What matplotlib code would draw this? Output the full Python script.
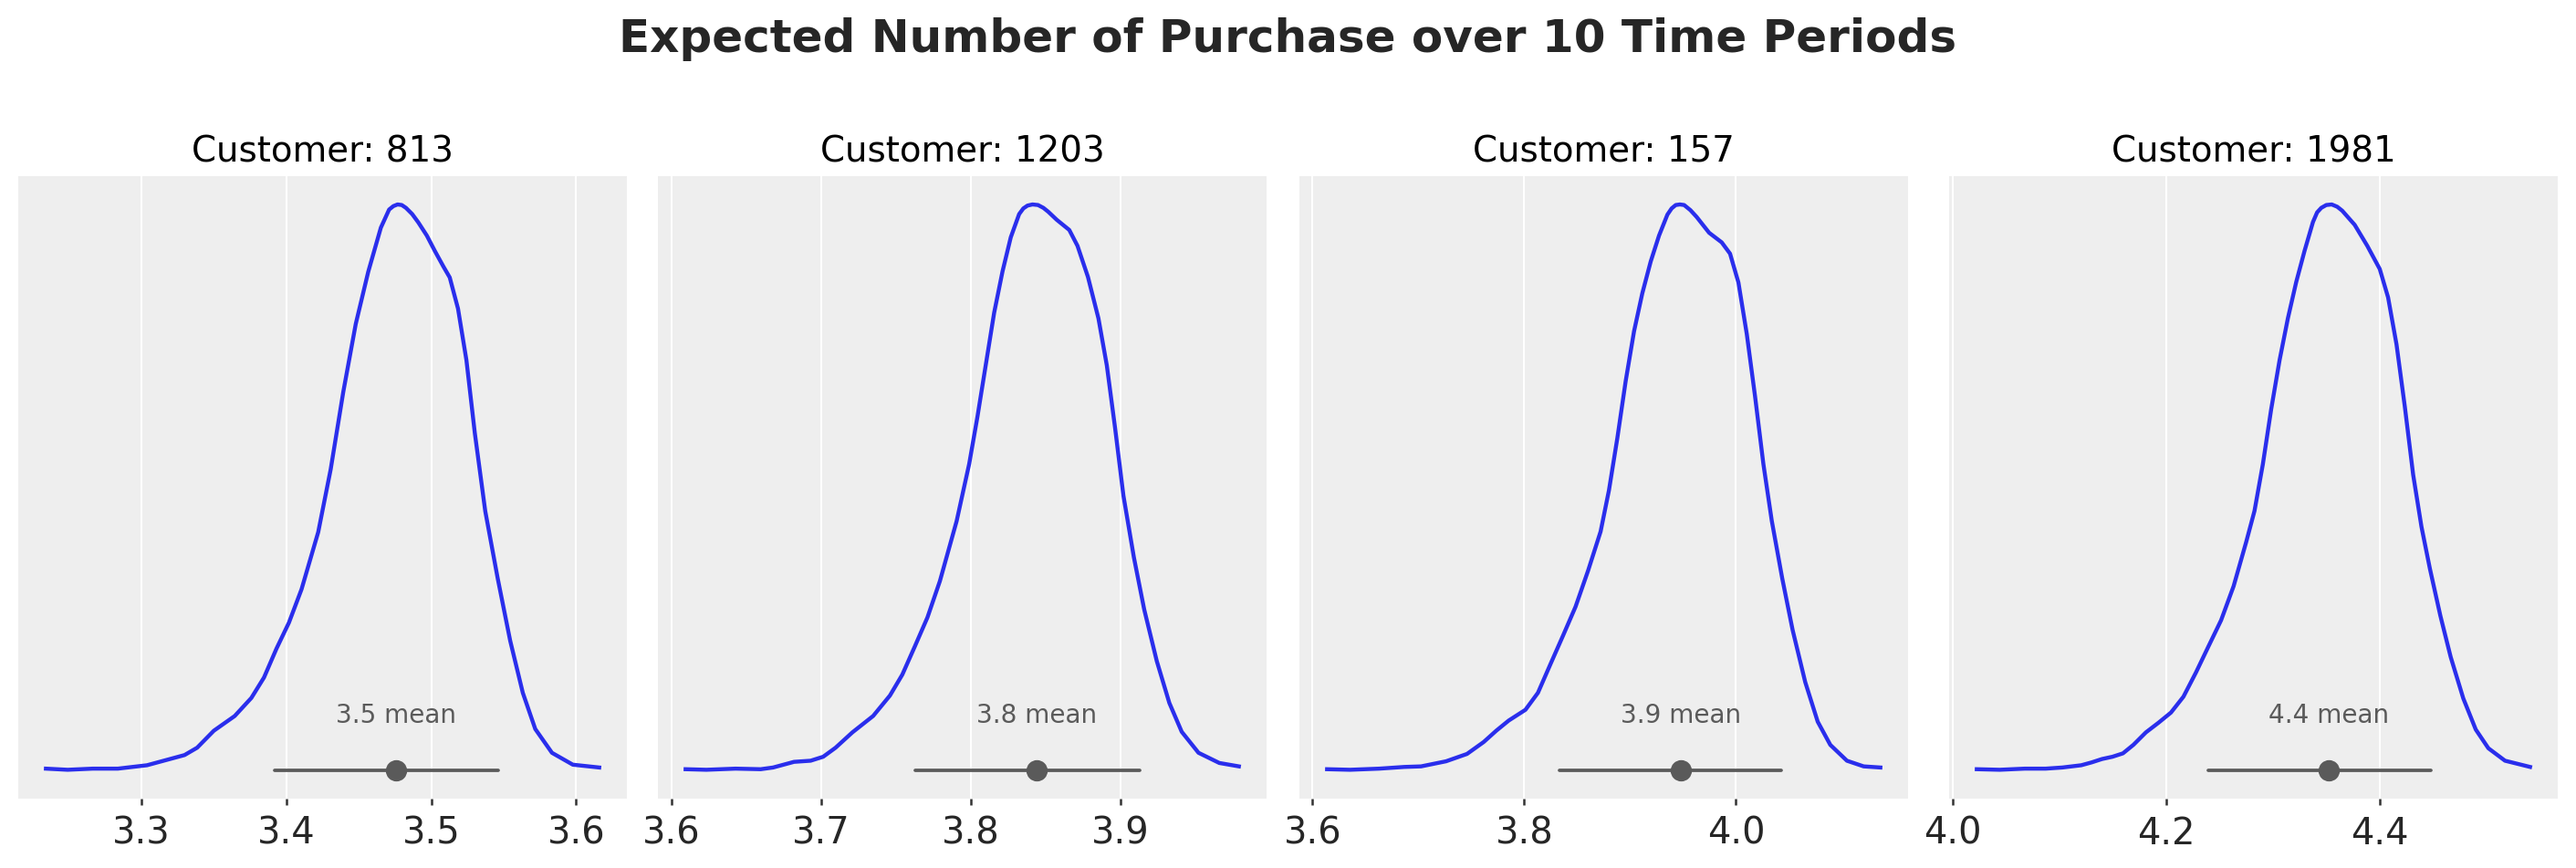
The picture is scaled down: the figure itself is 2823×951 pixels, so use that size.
import matplotlib
matplotlib.use("Agg")
import matplotlib.pyplot as plt
import numpy as np

plt.rcParams['font.family'] = ['DejaVu Sans']

# Customers shown
customers = [813, 1203, 157, 1981]

# KDE curves (x value, relative density)
x_813 = [3.2343, 3.2493, 3.2666, 3.2839, 3.3040, 3.3184, 3.3299, 3.3386, 3.3501, 3.3645,
         3.3760, 3.3847, 3.3933, 3.4019, 3.4106, 3.4221, 3.4307, 3.4394, 3.4480, 3.4566,
         3.4653, 3.4710, 3.4739, 3.4768, 3.4797, 3.4826, 3.4869, 3.4912, 3.4970, 3.5027,
         3.5085, 3.5128, 3.5185, 3.5243, 3.5301, 3.5373, 3.5459, 3.5545, 3.5632, 3.5718,
         3.5833, 3.5977, 3.6159]
y_813 = [0.003, 0.001, 0.003, 0.003, 0.009, 0.019, 0.027, 0.040, 0.070, 0.096,
         0.128, 0.164, 0.215, 0.261, 0.320, 0.421, 0.532, 0.669, 0.789, 0.881,
         0.959, 0.991, 0.997, 1.000, 0.999, 0.994, 0.983, 0.968, 0.945, 0.917,
         0.890, 0.871, 0.816, 0.725, 0.596, 0.458, 0.339, 0.229, 0.137, 0.073,
         0.031, 0.010, 0.005]

x_1203 = [3.6095, 3.6234, 3.6429, 3.6597, 3.6680, 3.6820, 3.6931, 3.7015, 3.7098, 3.7210,
          3.7349, 3.7461, 3.7544, 3.7628, 3.7712, 3.7795, 3.7907, 3.7991, 3.8046, 3.8102,
          3.8158, 3.8214, 3.8269, 3.8325, 3.8353, 3.8381, 3.8414, 3.8451, 3.8487, 3.8520,
          3.8576, 3.8660, 3.8715, 3.8785, 3.8855, 3.8911, 3.8966, 3.9022, 3.9092, 3.9161,
          3.9245, 3.9329, 3.9412, 3.9524, 3.9663, 3.9794]
y_1203 = [0.002, 0.001, 0.003, 0.002, 0.005, 0.015, 0.017, 0.024, 0.040, 0.067,
          0.096, 0.132, 0.169, 0.219, 0.270, 0.334, 0.440, 0.541, 0.624, 0.716,
          0.808, 0.881, 0.941, 0.982, 0.992, 0.997, 0.999, 0.998, 0.993, 0.986,
          0.972, 0.954, 0.926, 0.871, 0.798, 0.715, 0.605, 0.485, 0.376, 0.284,
          0.193, 0.119, 0.068, 0.031, 0.013, 0.007]

x_157 = [3.6138, 3.6355, 3.6631, 3.6868, 3.7026, 3.7262, 3.7460, 3.7617, 3.7736, 3.7854,
         3.8012, 3.8130, 3.8249, 3.8367, 3.8485, 3.8604, 3.8722, 3.8801, 3.8880, 3.8959,
         3.9038, 3.9116, 3.9195, 3.9274, 3.9353, 3.9393, 3.9432, 3.9471, 3.9511, 3.9570,
         3.9629, 3.9747, 3.9866, 3.9945, 4.0024, 4.0103, 4.0181, 4.0260, 4.0339, 4.0438,
         4.0536, 4.0655, 4.0773, 4.0892, 4.1049, 4.1207, 4.1365]
y_157 = [0.002, 0.001, 0.003, 0.006, 0.007, 0.016, 0.029, 0.050, 0.070, 0.088,
         0.107, 0.137, 0.188, 0.238, 0.289, 0.353, 0.422, 0.495, 0.587, 0.688,
         0.776, 0.843, 0.899, 0.945, 0.982, 0.993, 0.999, 1.000, 0.999, 0.990,
         0.978, 0.950, 0.933, 0.913, 0.862, 0.771, 0.661, 0.541, 0.441, 0.339,
         0.248, 0.156, 0.086, 0.045, 0.017, 0.007, 0.005]

x_1981 = [4.0223, 4.0438, 4.0673, 4.0869, 4.1025, 4.1202, 4.1299, 4.1397, 4.1495, 4.1593,
          4.1691, 4.1808, 4.1926, 4.2043, 4.2160, 4.2278, 4.2395, 4.2513, 4.2630, 4.2748,
          4.2826, 4.2904, 4.2982, 4.3061, 4.3139, 4.3217, 4.3295, 4.3374, 4.3413, 4.3452,
          4.3499, 4.3550, 4.3601, 4.3648, 4.3765, 4.3883, 4.4000, 4.4078, 4.4157, 4.4235,
          4.4313, 4.4391, 4.4470, 4.4568, 4.4665, 4.4783, 4.4900, 4.5018, 4.5174, 4.5409]
y_1981 = [0.002, 0.001, 0.003, 0.003, 0.005, 0.009, 0.014, 0.020, 0.024, 0.030,
          0.045, 0.067, 0.084, 0.102, 0.130, 0.173, 0.219, 0.265, 0.325, 0.403,
          0.458, 0.540, 0.637, 0.724, 0.798, 0.862, 0.917, 0.968, 0.985, 0.993,
          0.998, 0.999, 0.995, 0.988, 0.963, 0.926, 0.885, 0.835, 0.752, 0.642,
          0.522, 0.430, 0.356, 0.273, 0.200, 0.127, 0.072, 0.039, 0.017, 0.006]

kde_x = [x_813, x_1203, x_157, x_1981]
kde_y = [y_813, y_1203, y_157, y_1981]

# Posterior mean and 94% HDI
means = [3.4758, 3.8442, 3.9479, 4.3523]
hdi_low = [3.3923, 3.7628, 3.8335, 4.2395]
hdi_high = [3.5463, 3.9134, 4.0426, 4.4477]

# x ticks
ticks = [[3.3, 3.4, 3.5, 3.6], [3.6, 3.7, 3.8, 3.9], [3.6, 3.8, 4.0], [4.0, 4.2, 4.4]]

fig = plt.figure(figsize=(2823 / 300, 951 / 300), dpi=300)
lefts = [20, 721, 1424, 2136]
blue = '#2a2eec'
grey = '#5a5a5a'

for i in range(4):
    ax = fig.add_axes([lefts[i] / 2823, 1 - 875 / 951, 667 / 2823, (875 - 193) / 951])
    ax.set_facecolor('#eeeeee')
    for s in ax.spines.values():
        s.set_visible(False)
    ax.plot(kde_x[i], kde_y[i], color=blue, lw=1.05, solid_joinstyle='round')
    ax.plot([hdi_low[i], hdi_high[i]], [0, 0], color=grey, lw=0.9, solid_capstyle='round')
    ax.plot(means[i], 0, 'o', color=grey, ms=4.6)
    ax.text(means[i], 0.084, f'{means[i]:.2g} mean', ha='center', va='baseline',
            fontsize=6.7, color=grey)
    ax.set_xticks(ticks[i])
    ax.set_xticklabels([f'{t:.1f}' for t in ticks[i]])
    ax.set_yticks([])
    ax.grid(axis='x', color='white', lw=0.5)
    ax.set_axisbelow(True)
    ax.tick_params(axis='x', length=1.7, width=0.6, color='#333333', labelsize=9.6,
                   labelcolor='#262626', pad=2.8)
    ax.set_title(f'Customer: {customers[i]}', fontsize=9.3, color='black', pad=3.8)

fig.suptitle('Expected Number of Purchase over 10 Time Periods', fontsize=12,
             fontweight='bold', color='#262626', y=0.955, va='center')
fig.savefig('out.png', dpi=300)
